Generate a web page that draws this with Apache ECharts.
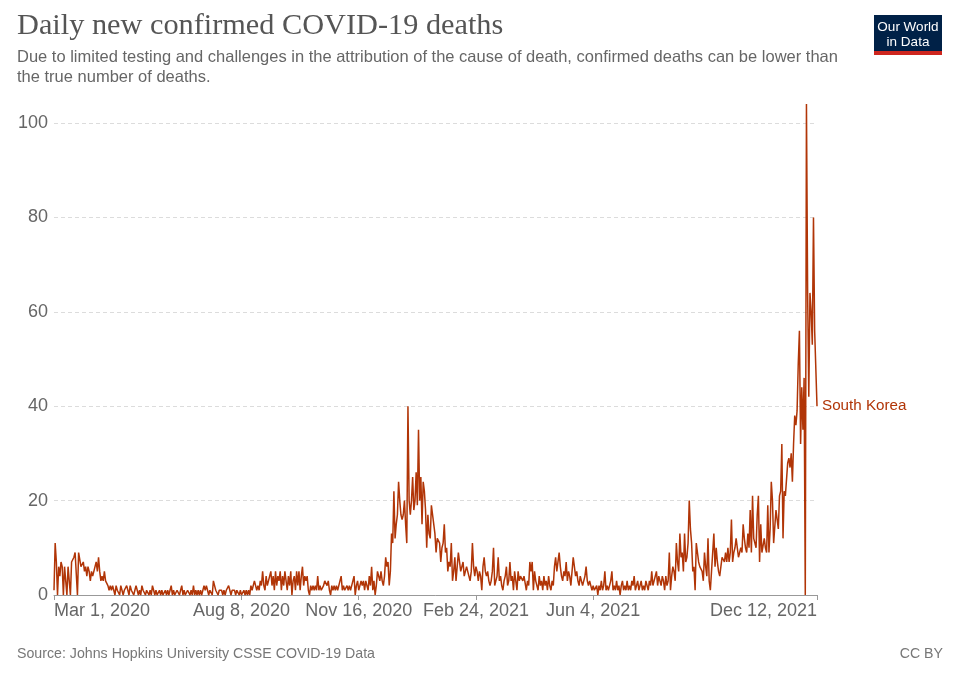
<!DOCTYPE html>
<html><head><meta charset="utf-8">
<script src="https://cdn.jsdelivr.net/npm/echarts@6/dist/echarts.min.js"></script>
<style>html,body{margin:0;padding:0;background:#fff;}#c{width:960px;height:678px;}</style>
</head><body><div id="c"></div>
<script>
// Start of the daily series (Mar 1, 2020) and labelled ticks
const startYear = 2020, startMonth = 2, startDay = 1;
const tickLabels = ['Mar 1, 2020','Aug 8, 2020','Nov 16, 2020','Feb 24, 2021','Jun 4, 2021','Dec 12, 2021'];
const yTicks = [0, 20, 40, 60, 80, 100];
const seriesName = 'South Korea';

// Daily new confirmed deaths, one array per month
const d2020_03 = [1,11,7,0,6,4,7,6,0,6,6,0,6,3,0,7,7,8,9,9,0,9,9,6,6,7,5,6,4,6,5];
const d2020_04 = [3,5,4,5,6,7,5,8,5,3,4,3,5,3,3,2,1,2,1,2,1,0,2,1,1,0,2,1,0,1];
const d2020_05 = [1,2,1,0,2,1,1,0,1,2,1,0,1,0,2,1,1,0,1,1,0,1,0,2,1,0,1,0,0,1,0];
const d2020_06 = [1,0,0,1,0,1,0,1,2,0,1,0,0,1,1,0,1,2,0,1,0,0,1,1,0,1,0,2,0,1];
const d2020_07 = [0,1,0,1,0,0,2,1,2,1,0,1,1,0,3,2,1,1,0,1,1,1,0,1,0,1,1,2,1,0,1];
const d2020_08 = [1,1,0,1,1,0,1,0,0,1,0,1,0,1,0,2,1,1,3,2,1,2,1,3,2,5,2,1,4,2,3];
const d2020_09 = [3,5,2,4,1,5,2,4,3,5,1,4,2,5,3,1,4,2,5,0,3,4,1,5,2,5,1,4,6,2];
const d2020_10 = [4,3,4,1,0,2,1,2,1,2,1,4,1,2,1,1,2,3,3,2,3,1,0,2,1,2,1,2,1,2,3];
const d2020_11 = [4,1,2,1,1,2,1,2,1,2,3,4,0,2,3,1,2,3,2,3,1,3,2,1,4,2,6,1,3,0];
const d2020_12 = [2,5,4,3,5,3,2,4,8,6,7,2,5,13,11,22,12,15,17,24,20,17,16,17,20,15,11,40,20,17,20];
const d2021_01 = [25,18,20,26,19,35,20,25,15,24,22,18,10,17,13,12,19,17,15,13,9,12,12,11,7,10,11,15,9,10,5];
const d2021_02 = [7,6,11,3,5,8,3,6,9,7,5,6,7,4,5,6,6,4,3,5,11,6,4,6,5,3,5,4];
const d2021_03 = [1,6,8,5,4,5,3,2,3,5,10,2,3,4,8,3,4,2,1,3,4,6,2,3,7,3,4,1,5,3,1];
const d2021_04 = [5,3,4,4,3,4,4,1,3,2,7,5,7,1,5,3,2,1,4,2,3,1,4,2,3,1,4,2,1,3];
const d2021_05 = [2,6,8,5,7,9,6,4,3,5,4,7,3,5,4,2,5,8,6,4,5,3,2,4,4,2,3,4,6,3,2];
const d2021_06 = [3,2,1,2,1,1,2,0,2,1,3,1,2,5,1,2,1,2,3,5,1,2,1,3,1,2,0,2,3,1];
const d2021_07 = [2,1,3,1,2,1,3,2,4,1,2,3,1,2,3,1,2,1,3,2,1,3,2,5,2,3,4,5,2,4,3];
const d2021_08 = [2,4,3,1,4,2,3,9,1,4,6,5,3,11,7,5,13,8,9,5,13,7,8,11,20,14,11,5,6,1,11];
const d2021_09 = [9,7,6,6,5,3,9,6,4,12,3,1,5,9,13,6,10,7,5,4,6,8,8,7,9,7,10,7,9,16];
const d2021_10 = [7,9,10,12,10,8,8,10,9,15,12,10,9,13,10,18,9,21,12,12,10,17,21,7,15,9,9,12,10,9,19];
const d2021_11 = [9,14,24,20,11,11,18,16,14,21,22,32,12,22,21,21,28,29,27,30,24,32,38,36,39,49,56,32,44,35];
const d2021_12 = [46,0,104,64,42,64,60,53,80,56,48,40];

const values = [].concat(d2020_03,d2020_04,d2020_05,d2020_06,d2020_07,d2020_08,d2020_09,d2020_10,d2020_11,d2020_12,
  d2021_01,d2021_02,d2021_03,d2021_04,d2021_05,d2021_06,d2021_07,d2021_08,d2021_09,d2021_10,d2021_11,d2021_12);

const monthNames = ['Jan','Feb','Mar','Apr','May','Jun','Jul','Aug','Sep','Oct','Nov','Dec'];
const categories = [];
const t0 = Date.UTC(startYear, startMonth, startDay);
for (let i = 0; i < values.length; i++) {
  const d = new Date(t0 + i * 86400000);
  categories.push(monthNames[d.getUTCMonth()] + ' ' + d.getUTCDate() + ', ' + d.getUTCFullYear());
}
const tickSet = new Set(tickLabels);
const lineColor = '#b13507';
const sans = '"Liberation Sans", Arial, sans-serif';

const chart = echarts.init(document.getElementById('c'), null, {renderer: 'canvas'});
chart.setOption({
  animation: false,
  textStyle: {fontFamily: sans},
  grid: {left: 54, right: 143, top: 123, bottom: 83, containLabel: false},
  xAxis: {
    type: 'category', data: categories, boundaryGap: false,
    axisLine: {lineStyle: {color: '#999', width: 1}},
    axisTick: {show: true, length: 5, interval: (i, v) => tickSet.has(v), lineStyle: {color: '#999'}},
    axisLabel: {interval: (i, v) => tickSet.has(v), color: '#666', fontSize: 18, margin: 7,
      alignMinLabel: 'left', alignMaxLabel: 'right', fontFamily: sans},
    splitLine: {show: false}
  },
  yAxis: {
    type: 'value', min: yTicks[0], max: yTicks[yTicks.length - 1], interval: yTicks[1] - yTicks[0],
    axisLine: {show: false}, axisTick: {show: false},
    axisLabel: {color: '#666', fontSize: 18, margin: 6, fontFamily: sans},
    splitLine: {lineStyle: {color: '#dcdcdc', type: [4, 3], width: 1}}
  },
  series: [{
    type: 'line', name: seriesName, data: values, showSymbol: false, clip: false,
    lineStyle: {color: lineColor, width: 1.5}, itemStyle: {color: lineColor},
    emphasis: {disabled: true},
    endLabel: {show: true, formatter: seriesName, color: lineColor, fontSize: 15.2, distance: 5, fontFamily: sans}
  }],
  graphic: [
    {type: 'text', x: 17, y: 26, style: {text: 'Daily new confirmed COVID-19 deaths', fontFamily: '"Liberation Serif", serif', fontSize: 30.3, fill: '#555', verticalAlign: 'middle'}},
    {type: 'text', x: 17, y: 57, style: {text: 'Due to limited testing and challenges in the attribution of the cause of death, confirmed deaths can be lower than', fontFamily: sans, fontSize: 16.5, fill: '#666', verticalAlign: 'middle'}},
    {type: 'text', x: 17, y: 77, style: {text: 'the true number of deaths.', fontFamily: sans, fontSize: 16.5, fill: '#666', verticalAlign: 'middle'}},
    {type: 'rect', shape: {x: 874, y: 15, width: 68, height: 36}, style: {fill: '#002147'}},
    {type: 'rect', shape: {x: 874, y: 51, width: 68, height: 4}, style: {fill: '#ce261e'}},
    {type: 'text', x: 908, y: 27, style: {text: 'Our World', fontFamily: sans, fontSize: 13.5, fill: '#fff', align: 'center', verticalAlign: 'middle'}},
    {type: 'text', x: 908, y: 42, style: {text: 'in Data', fontFamily: sans, fontSize: 13.5, fill: '#fff', align: 'center', verticalAlign: 'middle'}},
    {type: 'text', x: 17, y: 654, style: {text: 'Source: Johns Hopkins University CSSE COVID-19 Data', fontFamily: sans, fontSize: 14.2, fill: '#777', verticalAlign: 'middle'}},
    {type: 'text', x: 943, y: 654, style: {text: 'CC BY', fontFamily: sans, fontSize: 14.2, fill: '#777', align: 'right', verticalAlign: 'middle'}}
  ]
});
</script></body></html>
